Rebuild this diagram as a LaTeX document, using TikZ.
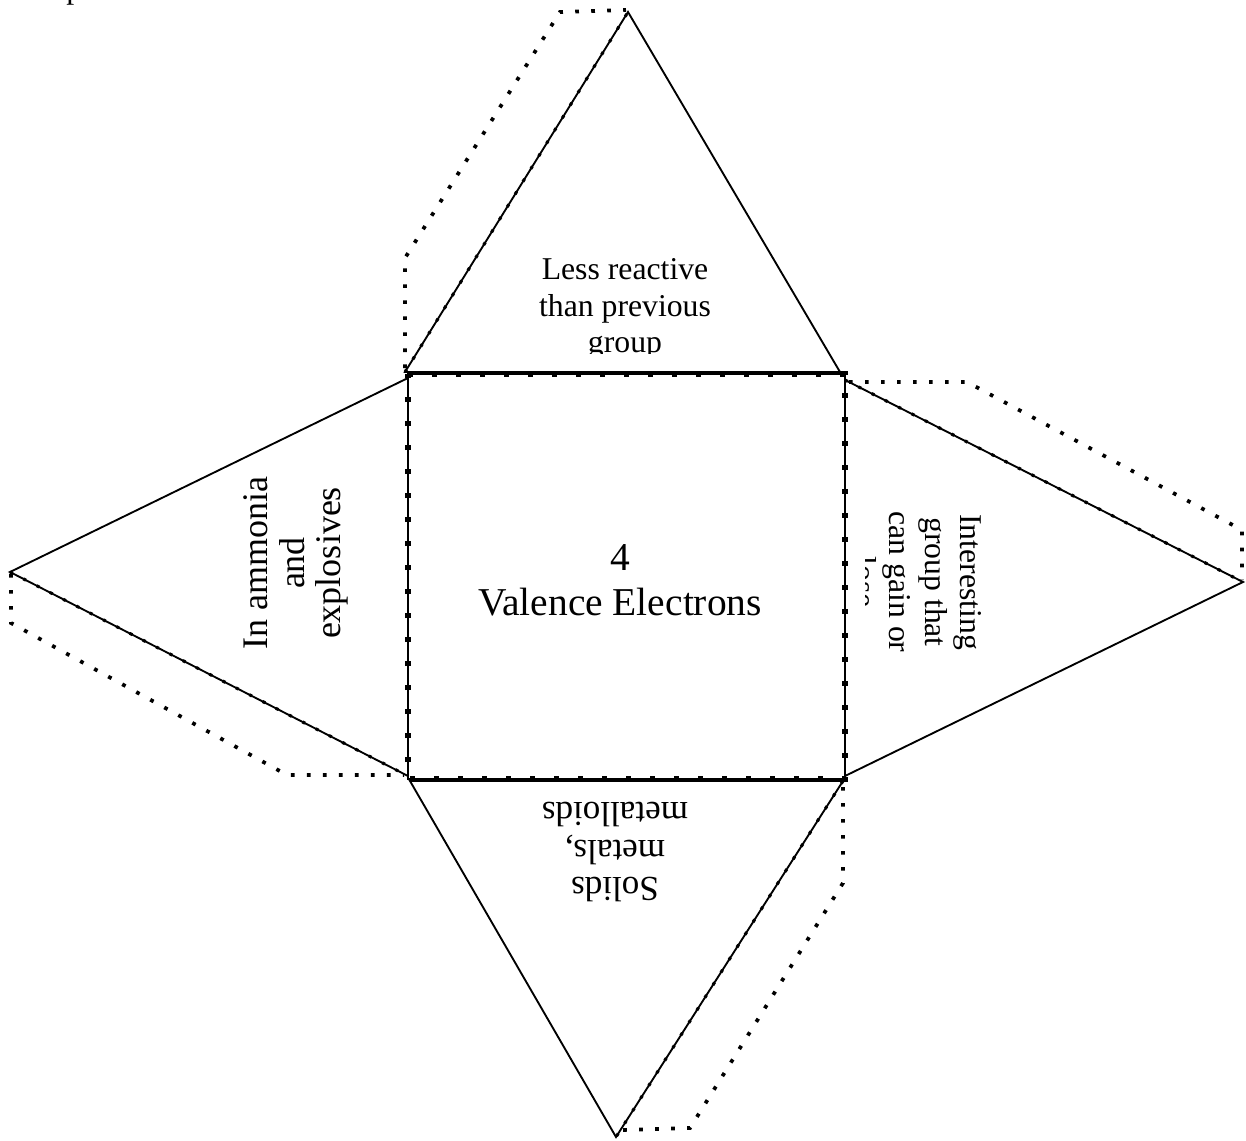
\documentclass[tikz,border=0pt]{standalone}
\usepackage{fontspec}
\setmainfont{Liberation Serif}
\begin{document}
\begin{tikzpicture}[x=0.75pt,y=-0.75pt,
  edge/.style={line width=1.4pt},
  fold/.style={line width=3.8pt,dash pattern=on 3.8pt off 14.2pt},
  tab/.style={line width=2.8pt,dash pattern=on 2.8pt off 9.2pt},
  seam/.style={line width=2.3pt,dash pattern=on 2.3pt off 8.9pt},
  label/.style={inner sep=0pt,align=center},
  txtS/.style={font=\fontsize{23.8}{26.5}\selectfont},
  txtL/.style={font=\fontsize{27}{27.5}\selectfont},
  txtC/.style={font=\fontsize{29.6}{34}\selectfont}]
\useasboundingbox (0,0) rectangle (1246,1141);

% square face
\coordinate (sqA) at (408,374);
\coordinate (sqB) at (845,374);
\coordinate (sqC) at (845,779);
\coordinate (sqD) at (408,779);
% triangle faces
\coordinate (tA) at (405,372);  \coordinate (tT) at (628,12);   \coordinate (tB) at (840,372);
\coordinate (lA) at (408,378);  \coordinate (lT) at (10,572);   \coordinate (lB) at (408,776);
\coordinate (rA) at (845,380);  \coordinate (rT) at (1243,582); \coordinate (rB) at (845,776);
\coordinate (bA) at (410,781);  \coordinate (bT) at (616,1137); \coordinate (bB) at (843,781);

\draw[edge] (sqA) -- (sqB) -- (sqC) -- (sqD) -- cycle;
\draw[fold] (sqA) -- (sqB) -- (sqC) -- (sqD) -- cycle;

\draw[edge] (tA) -- (tT) -- (tB) -- cycle;
\draw[edge] (lA) -- (lT) -- (lB) -- cycle;
\draw[edge] (rA) -- (rT) -- (rB) -- cycle;
\draw[edge] (bA) -- (bT) -- (bB) -- cycle;

% glue tabs
\draw[tab] (405,368) -- (405,258) -- (560,12) -- (626,10);
\draw[seam] (tA) -- (tT);
\draw[tab] (849,382) -- (967,382) -- (1242,530) -- (1242,580);
\draw[seam] (rA) -- (rT);
\draw[tab] (11,574) -- (11,623) -- (287,775) -- (404,775);
\draw[seam] (lT) -- (lB);
\draw[tab] (843,787) -- (843,883) -- (690,1128) -- (622,1130);
\draw[seam] (bB) -- (bT);

% labels
\begin{scope}
  \clip (0,0) rectangle (1246,1141);
  \node[label,anchor=base west,font=\fontsize{23.8}{26.5}\selectfont] (grp) at (1,-1) {Group};
\end{scope}

\begin{scope}
  \clip (0,0) rectangle (1246,353);
  \node[label,font=\fontsize{23.8}{27.5}\selectfont] (topT) at (625,309) {Less reactive\\than previous\\group};
\end{scope}

\node[label,txtC] (cen) at (620,580) {4\\Valence Electrons};

\node[label,txtL,rotate=90] (lef) at (296,563) {In ammonia\\and\\explosives};

\begin{scope}
  \clip (865,0) rectangle (1246,1141);
  \node[label,txtS,rotate=-90] (rig) at (918,582) {Interesting\\group that\\can gain or\\lose};
\end{scope}

\node[label,font=\fontsize{26.3}{28}\selectfont,rotate=180] (bot) at (615,852) {Solids\\metals,\\metalloids};
\end{tikzpicture}
\end{document}
